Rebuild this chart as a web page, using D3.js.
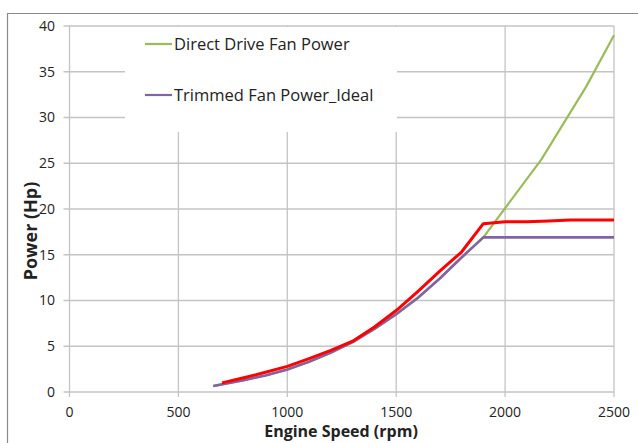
<!DOCTYPE html>
<html>
<head>
<meta charset="utf-8">
<script src="https://cdn.jsdelivr.net/npm/d3@7"></script>
<style>
  body { margin: 0; background: #fff; }
  text { font-family: "Open Sans", "Liberation Sans", sans-serif; fill: #222; }
</style>
</head>
<body>
<div id="chart"></div>
<script>
// Data
const xTicks = [0, 500, 1000, 1500, 2000, 2500];
const yTicks = [0, 5, 10, 15, 20, 25, 30, 35, 40];

const directSpeed = [660, 800, 900, 1000, 1100, 1200, 1300, 1400, 1500, 1600, 1700, 1800, 1900, 2166, 2373, 2500];
const directPower = [0.65, 1.3, 1.8, 2.45, 3.3, 4.3, 5.45, 6.9, 8.5, 10.3, 12.4, 14.7, 16.9, 25.4, 33.4, 39.0];

const trimmedSpeed = [660, 800, 900, 1000, 1100, 1200, 1300, 1400, 1500, 1600, 1700, 1800, 1900, 2500];
const trimmedPower = [0.65, 1.3, 1.8, 2.45, 3.3, 4.3, 5.45, 6.9, 8.5, 10.3, 12.4, 14.7, 16.9, 16.9];

const actualSpeed = [700, 800, 900, 1000, 1100, 1200, 1300, 1400, 1500, 1600, 1700, 1800, 1900, 2000, 2100, 2200, 2300, 2400, 2500];
const actualPower = [1.0, 1.55, 2.15, 2.8, 3.65, 4.55, 5.55, 7.1, 8.9, 11.0, 13.2, 15.3, 18.4, 18.6, 18.6, 18.7, 18.8, 18.8, 18.8];

const W = 638, H = 443;
const plot = { left: 69.5, right: 614, top: 26, bottom: 392 };

const svg = d3.select("#chart").append("svg")
    .attr("width", W)
    .attr("height", H);

// outer chart frame (only top and left edges are in view)
svg.append("path")
    .attr("d", `M7.5,${H} V13.5 H${W}`)
    .attr("fill", "none")
    .attr("stroke", "#8a8a8a")
    .attr("stroke-width", 1.2);

const x = d3.scaleLinear().domain([0, 2500]).range([plot.left, plot.right]);
const y = d3.scaleLinear().domain([0, 40]).range([plot.bottom, plot.top]);

const gridColor = "#c4c4c4";

// horizontal gridlines
svg.append("g")
    .selectAll("line")
    .data(yTicks)
    .enter()
    .append("line")
    .attr("x1", plot.left - 6)
    .attr("x2", plot.right)
    .attr("y1", d => y(d))
    .attr("y2", d => y(d))
    .attr("stroke", gridColor)
    .attr("stroke-width", 1.3);

// vertical gridlines
svg.append("g")
    .selectAll("line")
    .data(xTicks)
    .enter()
    .append("line")
    .attr("x1", d => x(d))
    .attr("x2", d => x(d))
    .attr("y1", plot.top)
    .attr("y2", plot.bottom + 5)
    .attr("stroke", gridColor)
    .attr("stroke-width", 1.3);

// y tick labels
svg.append("g")
    .selectAll("text")
    .data(yTicks)
    .enter()
    .append("text")
    .attr("x", 55)
    .attr("y", d => y(d))
    .attr("dy", "0.35em")
    .attr("text-anchor", "end")
    .style("font-size", "14px")
    .text(d => d);

// x tick labels
svg.append("g")
    .selectAll("text")
    .data(xTicks)
    .enter()
    .append("text")
    .attr("x", d => x(d))
    .attr("y", 417)
    .attr("text-anchor", "middle")
    .style("font-size", "14px")
    .text(d => d);

// axis titles
svg.append("text")
    .attr("x", 341)
    .attr("y", 437)
    .attr("text-anchor", "middle")
    .style("font-size", "16px")
    .style("font-weight", "bold")
    .text("Engine Speed (rpm)");

svg.append("text")
    .attr("transform", "translate(37,231) rotate(-90)")
    .attr("text-anchor", "middle")
    .style("font-size", "18px")
    .style("font-weight", "bold")
    .text("Power (Hp)");

// lines
const line = d3.line()
    .x(d => x(d[0]))
    .y(d => y(d[1]));

const series = [
    { speed: directSpeed, power: directPower, color: "#9BBB59", width: 2.2 },
    { speed: trimmedSpeed, power: trimmedPower, color: "#8064A2", width: 2.6 },
    { speed: actualSpeed, power: actualPower, color: "#ff0000", width: 3 }
];

series.forEach(s => {
    svg.append("path")
        .datum(d3.zip(s.speed, s.power))
        .attr("d", line)
        .attr("fill", "none")
        .attr("stroke", s.color)
        .attr("stroke-width", s.width)
        .attr("stroke-linejoin", "round");
});

// legend box (white, hides gridlines underneath)
const legend = svg.append("g");
legend.append("rect")
    .attr("x", 125)
    .attr("y", 27)
    .attr("width", 272)
    .attr("height", 105)
    .attr("fill", "#fff");

const legendItems = [
    { label: "Direct Drive Fan Power", color: "#9BBB59", y: 44 },
    { label: "Trimmed Fan Power_Ideal", color: "#8064A2", y: 95 }
];

legendItems.forEach(item => {
    legend.append("line")
        .attr("x1", 145)
        .attr("x2", 172)
        .attr("y1", item.y)
        .attr("y2", item.y)
        .attr("stroke", item.color)
        .attr("stroke-width", 2.2);
    legend.append("text")
        .attr("x", 174)
        .attr("y", item.y)
        .attr("dy", "0.35em")
        .style("font-size", "16.5px")
        .text(item.label);
});
</script>
</body>
</html>
